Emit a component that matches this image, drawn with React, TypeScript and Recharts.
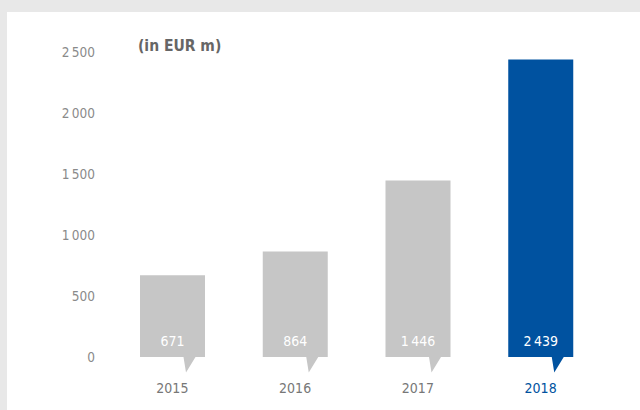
import React from 'react';
import { BarChart, Bar, XAxis, YAxis, LabelList } from 'recharts';

// ─── Data ─────────────────────────────────────────────────────────────────────

const years = ['2015', '2016', '2017', '2018'];
const values = [671, 864, 1446, 2439];
const yTicks = [0, 500, 1000, 1500, 2000, 2500];

const data = years.map((year, i) => ({ year, value: values[i] }));

// ─── Styles ───────────────────────────────────────────────────────────────────

const FONT = '"Liberation Sans Narrow", "DejaVu Sans Condensed", sans-serif';
const GRAY_BAR = '#c6c6c6';
const BLUE = '#0052a0';
const HIGHLIGHT = '2018';

// thousands separated by a thin space, as in the source ("2 500")
function fmt(n: number): string {
  return String(n).replace(/\B(?=(\d{3})+(?!\d))/g, '\u2009');
}

// bar with a small speech-bubble tail under its right half
function BubbleBar(props: any): React.ReactElement {
  const { x, y, width, height, payload } = props;
  const fill = payload.year === HIGHLIGHT ? BLUE : GRAY_BAR;
  const cx = x + width / 2;
  const b = y + height;
  const d = `M${x},${y} H${x + width} V${b} H${cx + 23} L${cx + 13.5},${b + 15.5} L${cx + 11},${b} H${x} Z`;
  return <path d={d} fill={fill} />;
}

function ValueLabel(props: any): React.ReactElement {
  const { x, y, width, height, value } = props;
  return (
    <text
      x={x + width / 2}
      y={y + height - 16}
      textAnchor="middle"
      dominantBaseline="central"
      fill="#ffffff"
      fontSize={14}
      fontFamily={FONT}
    >
      {fmt(value)}
    </text>
  );
}

function YearTick(props: any): React.ReactElement {
  const { x, y, payload } = props;
  const hl = payload.value === HIGHLIGHT;
  return (
    <text
      x={x}
      y={y}
      dy="0.71em"
      textAnchor="middle"
      fill={hl ? BLUE : '#777777'}
      fontSize={14}
      fontFamily={FONT}
    >
      {payload.value}
    </text>
  );
}

// ─── Component ────────────────────────────────────────────────────────────────

export default function App(): React.ReactElement {
  return (
    <div
      style={{
        position: 'absolute',
        left: 0,
        top: 0,
        width: 640,
        height: 410,
        background: '#e8e8e8',
        overflow: 'hidden',
      }}
    >
      <div
        style={{
          position: 'absolute',
          left: 7,
          top: 12,
          width: 633,
          height: 398,
          background: '#ffffff',
        }}
      />
      <div
        style={{
          position: 'absolute',
          left: 138,
          top: 37,
          fontFamily: FONT,
          fontWeight: 700,
          fontSize: 15.5,
          color: '#666666',
        }}
      >
        (in EUR m)
      </div>
      <div style={{ position: 'absolute', left: 0, top: 0 }}>
        <BarChart
          width={640}
          height={410}
          data={data}
          margin={{ top: 52, right: 38, bottom: 23, left: 0 }}
          barSize={65}
        >
          <YAxis
            width={111}
            domain={[0, 2500]}
            ticks={yTicks}
            axisLine={false}
            tickLine={false}
            tickMargin={10}
            tickFormatter={fmt}
            tick={{ fill: '#8a8a8a', fontSize: 13.5, fontFamily: FONT }}
          />
          <XAxis
            dataKey="year"
            axisLine={false}
            tickLine={false}
            tickMargin={20}
            tick={<YearTick />}
          />
          <Bar dataKey="value" shape={<BubbleBar />} isAnimationActive={false}>
            <LabelList dataKey="value" content={<ValueLabel />} />
          </Bar>
        </BarChart>
      </div>
    </div>
  );
}
